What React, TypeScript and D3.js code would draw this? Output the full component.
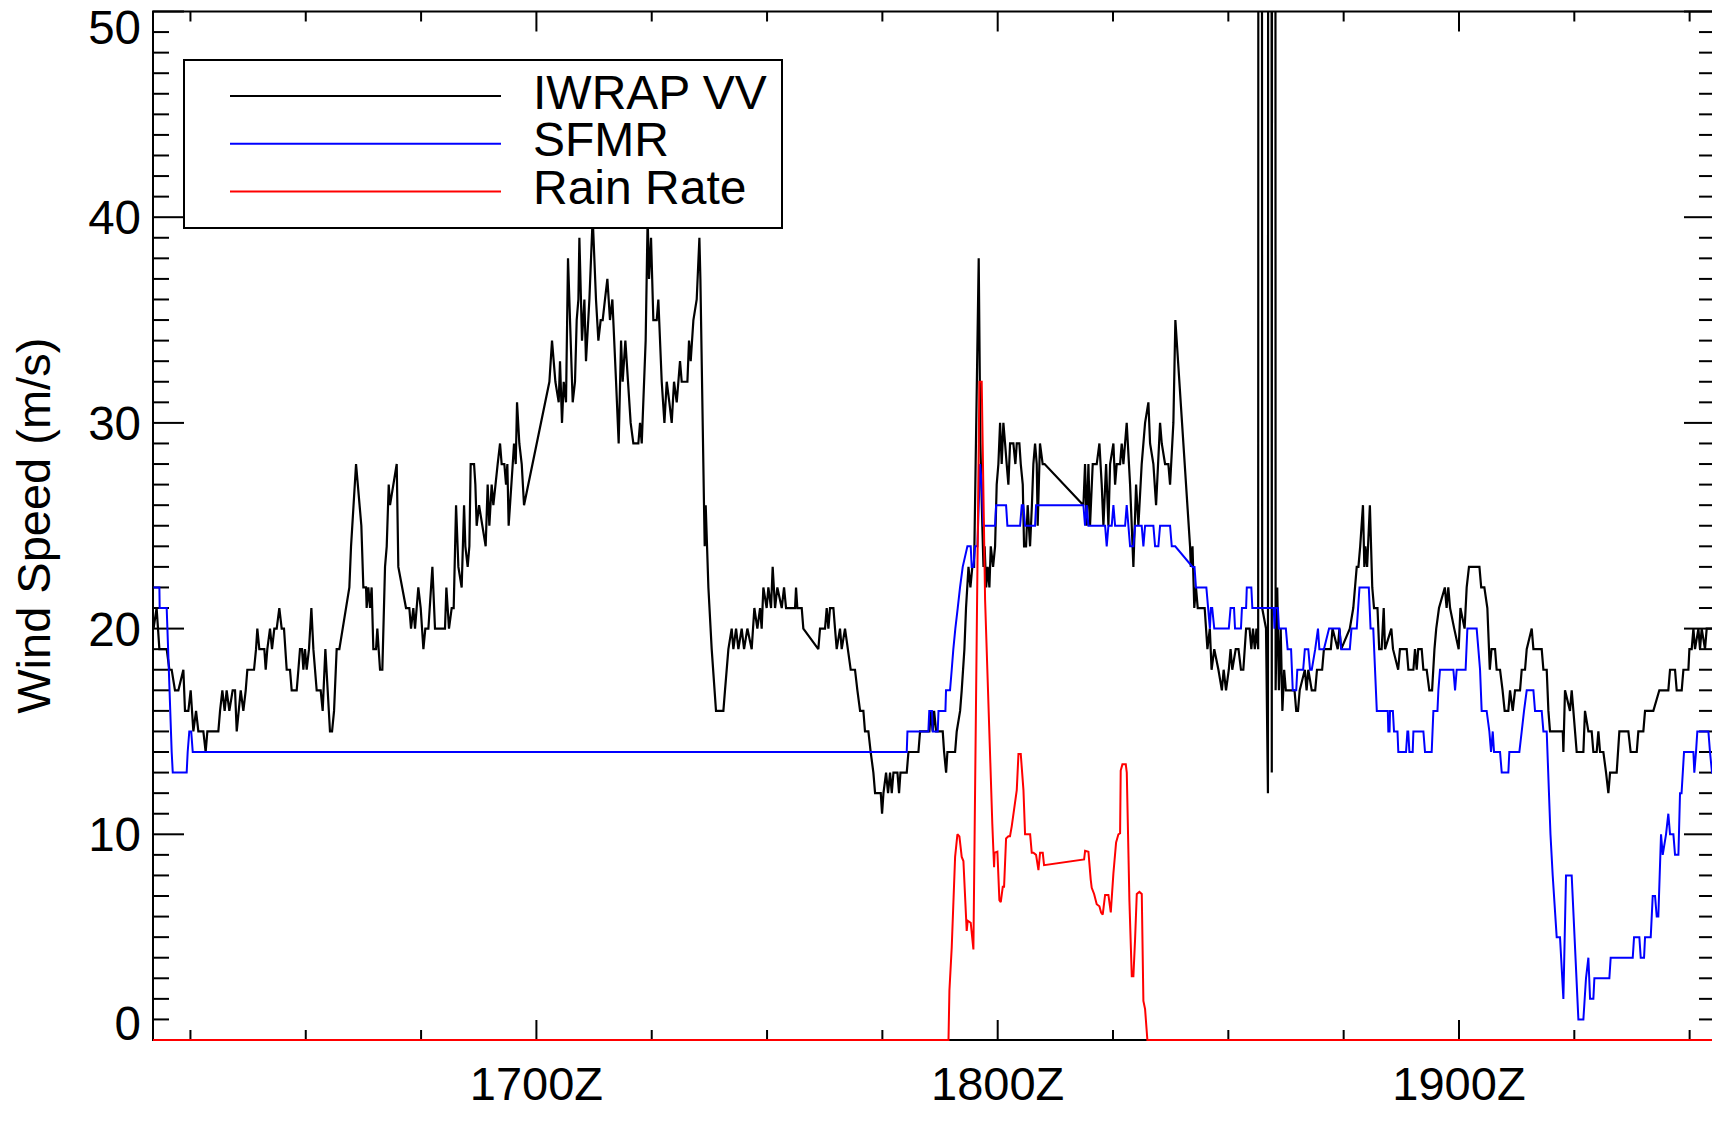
import React from 'react';
import * as d3 from 'd3';

// ---------- data (time in minutes after 1600Z, value in m/s or mm/hr) ----------
const timeDomain: [number, number] = [10.13, 213.3];
const speedDomain: [number, number] = [0, 50];

const xMajorTicks = [60, 120, 180];
const xTickLabels = ['1700Z', '1800Z', '1900Z'];
const xMinorTicks = [15, 30, 45, 75, 90, 105, 135, 150, 165, 195, 210];
const yMajorTicks = [0, 10, 20, 30, 40, 50];
const yMinorTicks = d3.range(0, 51);

const legendNames = ['IWRAP VV', 'SFMR', 'Rain Rate'];
const seriesColors = ['#000000', '#0000ff', '#ff0000'];

const iwrap: [number, number][] = [
  [10.2,20],[10.6,21],[10.96,19],[11.91,19],[12.26,18],[12.56,18],[12.99,17],[13.43,17],[14.08,18],[14.29,16],[14.73,16],[15.03,17],[15.38,15],[15.73,16],[16.03,15],[16.68,15],[16.98,14],[17.2,15],[18.63,15],[18.85,16],[19.15,17],[19.45,16],[19.71,17],[20.06,16],[20.49,17],[20.8,17],[21.02,15],[21.54,17],[21.88,16],[22.19,17],[22.4,18],[23.27,18],[23.53,19],[23.7,20],[23.96,19],[24.61,19],[24.79,18],[25.0,19],[25.35,20],[25.61,19],[25.91,20],[26.22,20],[26.56,21],[26.87,20],[27.17,20],[27.52,18],[27.95,18],[28.17,17],[28.82,17],[29.04,18],[29.25,19],[29.51,19],[29.69,18],[29.9,19],[30.12,18],[30.42,19],[30.73,21],[30.99,19],[31.42,17],[31.94,17],[32.2,16],[32.55,19],[32.85,17],[33.15,15],[33.42,15],[33.68,16],[34.02,19],[34.37,19],[35.67,22],[35.89,24],[36.54,28],[37.23,25],[37.49,22],[37.84,22],[37.92,21],[38.14,22],[38.36,21],[38.57,22],[38.79,19],[39.14,19],[39.31,20],[39.48,19],[39.66,18],[39.96,18],[40.31,23],[40.53,24],[40.79,27],[40.96,26],[41.83,28],[42.04,23],[43.04,21],[43.47,21],[43.69,20],[43.99,21],[44.21,20],[44.64,22],[44.95,21],[45.3,19],[45.55,20],[45.95,20],[46.47,23],[46.81,20],[48.11,20],[48.29,22],[48.63,20],[48.98,21],[49.24,21],[49.55,26],[49.85,23],[50.28,22],[50.59,26],[50.76,24],[51.06,23],[51.28,24],[51.45,28],[51.89,28],[52.06,27],[52.23,25],[52.54,26],[53.4,24],[53.66,27],[53.88,25],[54.18,27],[54.4,26],[54.96,28],[55.27,29],[55.48,28],[55.83,28],[56.05,27],[56.22,28],[56.39,25],[56.92,28],[57.09,29],[57.31,28],[57.48,31],[57.78,29],[58.09,28],[58.39,26],[61.69,32],[62.03,34],[62.47,32],[62.9,31],[63.07,33],[63.33,30],[63.55,32],[63.85,31],[64.11,38],[64.72,31],[65.02,32],[65.24,35],[65.46,36],[65.59,39],[65.93,34],[66.24,36],[66.45,33],[66.89,36],[67.32,40],[67.75,36],[68.06,34],[68.36,35],[68.62,35],[68.92,36],[69.23,37],[69.57,35],[69.88,36],[70.36,32],[70.7,29],[71.01,34],[71.22,32],[71.57,34],[72.26,30],[72.61,29],[73.26,29],[73.48,30],[73.7,29],[74.21,34],[74.47,40],[74.65,37],[74.91,39],[75.21,35],[75.65,35],[75.86,36],[76.3,32],[76.65,30],[76.95,32],[77.29,31],
  [77.6,30],[77.9,32],[78.25,31],[78.68,33],[78.9,32],[79.64,32],[79.85,34],[80.07,33],[80.42,35],[80.85,36],[81.2,39],[81.33,37],[81.8,26],[81.89,24],[82.02,26],[82.37,22],[82.8,19],[83.36,16],[84.32,16],[84.53,17],[84.97,19],[85.4,20],[85.62,19],[85.97,20],[86.27,19],[86.7,20],[87.01,19],[87.44,20],[88.0,19],[88.35,21],[88.74,20],[89.09,21],[89.3,20],[89.52,22],[89.95,21],[90.17,22],[90.52,21],[90.73,23],[91.04,21],[91.34,22],[91.91,21],[92.21,22],[92.47,21],[93.64,21],[93.77,22],[93.94,21],[94.51,21],[94.72,20],[96.67,19],[96.89,20],[97.54,20],[97.76,21],[97.98,20],[98.19,21],[98.63,21],[98.84,20],[99.06,19],[99.49,20],[99.71,19],[100.14,20],[100.88,18],[101.44,18],[101.75,17],[102.1,16],[102.53,16],[102.74,15],[103.18,15],[103.48,14],[103.83,13],[104.05,12],[104.79,12],[104.96,11],[105.14,12],[105.48,13],[105.74,12],[106.0,13],[106.22,12],[106.44,13],[106.96,13],[107.17,12],[107.35,13],[108.17,13],[108.39,14],[109.69,14],[109.9,15],[111.12,15],[111.29,16],[111.55,15],[111.73,16],[111.99,15],[112.85,15],[113.03,14],[113.29,13],[113.46,14],[114.46,14],[114.67,15],[115.11,16],[115.32,17],[115.67,19],[115.88,21],[116.2,23],[116.45,22],[116.7,23],[116.93,23],[117.53,38],[117.75,29],[118.0,25],[118.15,23],[118.3,24],[118.5,22],[118.7,23],[118.92,22],[119.1,24],[119.4,23],[119.66,24],[119.87,27],[120.09,28],[120.31,30],[120.52,28],[120.74,30],[120.96,29],[121.17,28],[121.39,27],[121.61,29],[122.04,29],[122.3,28],[122.48,29],[122.82,29],[123.0,28],[123.26,27],[123.43,24],[123.69,24],[123.9,26],[124.21,24],[124.45,26],[124.64,28],[124.86,29],[125.08,28],[125.2,25],[125.5,29],[125.85,28],[126.1,28],[131.15,26],[131.36,28],[131.58,25],[131.8,28],[132.01,25],[132.36,28],[132.88,28],[133.23,29],[133.53,27],[133.75,25],[134.1,28],[134.4,25],[134.62,28],[135.05,29],[135.27,27],[135.48,28],[135.92,28],[136.13,29],[136.35,28],[136.78,30],[137.22,27],[137.65,23],[138.0,27],[138.3,25],[138.73,28],[139.17,30],[139.6,31],[139.82,29],[140.25,28],[140.6,26],[141.12,30],[141.34,29],[141.77,28],[142.2,28],[142.42,27],[142.85,30],[143.11,35],[145.02,24],[145.12,23],[145.34,24],[145.57,21],[145.79,22],[146.02,21],[146.92,21],[147.28,19],[147.59,20],[147.82,18],[148.17,19],[148.71,18],[149.16,17],[149.39,18],[149.7,17],[150.06,18],[150.29,19],[150.51,18],[150.96,19],[151.32,19],[151.64,18],[151.95,18],[152.31,20],[152.76,20],[152.99,19],[153.21,20],[153.44,19],[153.66,20],[153.88,19],
  [154.1,400],[154.4,21],[154.9,20],[155.15,12],[155.4,400],[155.65,13],[155.9,400],[156.15,17],
  [156.36,22],[156.58,17],[156.81,20],[157.03,16],[157.26,18],[157.48,17],[158.61,17],[158.83,16],[159.06,16],[159.28,17],[159.95,18],[160.18,17],[160.4,18],[160.85,17],[161.3,17],[161.53,18],[162.2,18],[162.43,19],[163.33,19],[163.55,20],[164.23,19],[164.45,20],[164.68,19],[165.8,20],[166.25,21],[166.7,23],[166.92,23],[167.15,24],[167.51,26],[167.69,23],[167.82,24],[168.05,23],[168.41,26],[168.72,22],[168.95,21],[169.4,21],[169.62,19],[169.94,19],[170.21,21],[170.38,19],[171.2,20],[171.42,19],[172.09,18],[172.32,19],[173.2,19],[173.42,18],[174.07,18],[174.28,19],[174.5,18],[174.7,19],[175.15,19],[175.37,18],[175.8,18],[176.14,17],[176.5,17],[176.81,19],[177.04,20],[177.4,21],[178.16,22],[178.39,21],[178.61,22],[178.84,21],[179.38,20],[179.96,19],[180.19,21],[180.73,20],[181.0,22],[181.3,23],[182.66,23],[182.89,22],[183.3,22],[183.69,21],[184.01,18],[184.23,19],[184.69,19],[184.9,18],[185.34,18],[185.67,17],[185.94,16],[186.42,16],[186.64,17],[186.99,16],[187.29,17],[187.94,17],[188.16,18],[188.59,18],[188.81,19],[189.46,20],[189.68,19],[190.76,19],[190.98,18],[191.41,18],[191.63,16],[191.84,15],[192.28,15],[193.5,15],[193.58,14],[193.79,17],[194.44,16],[194.66,17],[194.88,16],[195.31,14],[196.18,14],[196.39,16],[196.83,15],[197.26,15],[197.48,14],[197.91,14],[198.13,15],[198.35,14],[198.78,14],[199.13,13],[199.43,12],[199.65,13],[200.51,13],[200.86,15],[202.03,15],[202.33,14],[203.12,14],[203.33,15],[203.98,15],[204.2,16],[205.28,16],[206.06,17],[207.23,17],[207.45,18],[208.1,18],[208.32,17],[208.97,17],[209.19,18],[209.84,18],[209.97,19],[210.27,19],[210.49,20],[210.7,19],[211.14,20],[211.35,19],[211.57,20],[212.0,19],[212.22,20],[213.3,20]
];

const sfmr: [number, number][] = [
  [10.2,22],[10.96,22],[11.0,21],[11.91,21],[12.56,14],[12.7,13],[14.51,13],[14.64,14],[14.85,15],[15.1,15],[15.3,14],[108.17,14],[108.26,15],[110.98,15],[111.1,16],[111.45,16],[111.55,15],[112.2,15],[112.3,16],[113.2,16],[113.28,17],[113.8,17],[114.02,18],[114.23,19],[114.49,20],[114.8,21],[115.1,22],[115.45,23],[116.06,24],[116.49,24],[116.62,23],[116.84,23],[117.06,24],[117.36,24],[117.71,28],[117.92,27],[118.14,25],[119.66,25],[119.79,26],[121.09,26],[121.26,25],[122.91,25],[123.13,26],[123.34,26],[123.56,25],[124.86,25],[124.99,26],[131.15,26],[131.36,25],[131.58,26],[131.8,25],[133.97,25],[134.18,24],[134.4,25],[134.83,25],[135.05,26],[135.27,25],[136.57,25],[136.78,26],[137.0,25],[137.22,24],[137.65,24],[137.87,25],[138.73,25],[138.95,24],[139.17,25],[140.25,25],[140.47,24],[140.9,24],[141.12,25],[142.42,25],[142.64,24],[143.09,24],[145.34,23],[145.6,23],[145.79,22],[147.14,22],[147.37,21],[147.6,20],[147.73,21],[147.9,21],[148.17,20],[150.06,20],[150.29,21],[150.74,21],[150.87,20],[151.64,20],[151.77,21],[152.31,21],[152.4,22],[152.99,22],[153.12,21],[155.91,21],[156.0,20],[156.1,21],[156.45,21],[156.58,20],[157.48,20],[157.71,19],[158.16,19],[158.38,17],[158.83,17],[158.97,18],[159.73,18],[159.95,19],[160.4,19],[160.63,18],[160.85,18],[161.3,19],[161.66,20],[161.84,19],[162.43,19],[163.1,20],[164.45,20],[164.68,19],[165.8,19],[166.02,20],[166.7,20],[167.06,22],[168.27,22],[168.5,20],[168.85,20],[169.31,16],[170.74,16],[170.81,15],[170.97,15],[171.03,16],[171.4,16],[171.55,15],[172.0,15],[172.11,14],[173.11,14],[173.29,15],[173.4,15],[173.55,14],[173.98,14],[174.07,15],[175.37,15],[175.58,14],[176.45,14],[176.67,16],[177.2,16],[177.32,17],[177.53,18],[179.27,18],[179.49,17],[179.7,18],[180.86,18],[181.09,20],[182.3,20],[182.52,19],[182.74,18],[182.95,16],[183.6,16],[183.95,15],[184.17,14],[184.39,15],[184.56,14],[185.34,14],[185.56,13],[186.42,13],[186.55,14],[187.85,14],[188.16,15],[188.46,16],[188.81,17],[189.68,17],[189.89,16],[190.76,16],[190.98,15],[191.41,15],[191.9,10],[192.19,8],[192.71,5],[193.14,5],[193.58,2],[193.92,8],[194.66,8],[195.53,1],[196.18,1],[196.52,3],[196.83,4],[197.05,2],[197.48,2],[197.61,3],[199.56,3],[199.73,4],[202.6,4],[202.77,5],[203.46,5],[203.64,4],[204.07,4],[204.2,5],[204.94,5],[205.2,7],[205.5,7],[205.72,6],[205.93,6],[206.28,10],[206.5,9],[206.93,10],[207.23,11],[207.45,10],[207.89,10],[208.1,9],[208.54,9],[208.75,12],[208.95,12],[209.27,14],[210.49,14],[210.61,13],[210.83,14],[211.0,15],[212.44,15],[212.65,14],[212.91,13],[213.3,13]
];

const rainRate: [number, number][] = [
  [10.13,0],[113.6,0],[113.72,2.4],[114.02,4.5],[114.46,8.9],[114.76,10.0],[115.02,9.9],[115.32,8.9],[115.54,8.7],[115.97,5.3],[116.1,5.8],[116.49,5.7],[116.84,4.4],[117.62,32],[117.92,32],[118.36,21.4],[119.3,10.5],[119.44,9.2],[119.53,8.4],[119.6,9.1],[119.96,9.15],[120.22,6.8],[120.4,6.7],[120.66,7.45],[120.83,7.45],[121.09,9.8],[121.39,9.9],[121.6,9.9],[121.83,10.4],[122.48,12.15],[122.7,13.9],[123.0,13.9],[123.35,12.15],[123.56,10.0],[124.22,10.0],[124.43,9.1],[124.65,9.1],[124.99,9.0],[125.3,8.26],[125.51,9.1],[125.86,9.1],[126.03,8.5],[131.24,8.78],[131.37,9.2],[131.8,9.15],[132.1,7.8],[132.23,7.4],[132.54,7.1],[132.88,6.6],[133.23,6.5],[133.45,6.2],[133.66,6.1],[133.97,7.05],[134.4,7.05],[134.71,6.2],[135.05,8.1],[135.4,9.6],[135.7,10.0],[135.92,10.05],[136.0,13.1],[136.22,13.4],[136.66,13.4],[136.79,13.0],[137.13,6.8],[137.44,3.1],[137.65,3.1],[137.87,4.9],[138.09,7.1],[138.43,7.2],[138.74,7.1],[138.95,1.9],[139.17,1.5],[139.47,0],[213.3,0]
];

const FONT = '"Liberation Sans", Arial, Helvetica, sans-serif';

export default function App() {
  const plotL = 153, plotR = 1715, plotT = 11.5, plotB = 1040;
  const x = d3.scaleLinear().domain(timeDomain).range([plotL, plotR]);
  const y = d3.scaleLinear().domain(speedDomain).range([plotB, plotT]);
  const line = d3.line<[number, number]>().x(d => x(d[0])).y(d => y(d[1]));

  const series = [iwrap, sfmr, rainRate];
  const widths = [2.2, 2, 2];

  const yMinorLen = 16, yMajorLen = 31, xMinorLen = 10, xMajorLen = 20;
  const tickStroke = { stroke: '#000', strokeWidth: 2 };

  // legend layout
  const lg = { x: 184, y: 60, w: 598, h: 168, lineX1: 230, lineX2: 501, textX: 533, row0: 96, rowGap: 47.7 };

  return (
    <svg width={1712} height={1136} style={{ position: 'absolute', left: 0, top: 0, background: '#fff' }}
      fontFamily={FONT}>
      <defs>
        <clipPath id="plotClip">
          <rect x={plotL} y={plotT} width={plotR - plotL} height={plotB - plotT + 2.5} />
        </clipPath>
      </defs>
      <rect x={0} y={0} width={1712} height={1136} fill="#fff" />

      {/* axes box */}
      <rect x={plotL} y={plotT} width={plotR - plotL} height={plotB - plotT} fill="none" stroke="#000" strokeWidth={2} />

      {/* y ticks, left and right */}
      {yMinorTicks.map(v => {
        const len = v % 10 === 0 ? yMajorLen : yMinorLen;
        const yy = y(v);
        return (
          <g key={'yt' + v}>
            <line x1={plotL} x2={plotL + len} y1={yy} y2={yy} {...tickStroke} />
            <line x1={plotR} x2={plotR - len} y1={yy} y2={yy} {...tickStroke} />
          </g>
        );
      })}
      {/* x ticks, bottom and top */}
      {xMinorTicks.map(t => (
        <g key={'xm' + t}>
          <line x1={x(t)} x2={x(t)} y1={plotB} y2={plotB - xMinorLen} {...tickStroke} />
          <line x1={x(t)} x2={x(t)} y1={plotT} y2={plotT + xMinorLen} {...tickStroke} />
        </g>
      ))}
      {xMajorTicks.map(t => (
        <g key={'xM' + t}>
          <line x1={x(t)} x2={x(t)} y1={plotB} y2={plotB - xMajorLen} {...tickStroke} />
          <line x1={x(t)} x2={x(t)} y1={plotT} y2={plotT + xMajorLen} {...tickStroke} />
        </g>
      ))}

      {/* tick labels */}
      {yMajorTicks.map(v => (
        <text key={'yl' + v} x={141} y={Math.min(Math.max(y(v) + 17, 43.5), 1040)} textAnchor="end"
          fontSize={47.5} fill="#000">{v}</text>
      ))}
      {xMajorTicks.map((t, i) => (
        <text key={'xl' + t} x={x(t)} y={1100} textAnchor="middle" fontSize={47} fill="#000">{xTickLabels[i]}</text>
      ))}

      {/* axis title */}
      <text transform={`translate(49.5, ${(plotT + plotB) / 2}) rotate(-90)`} textAnchor="middle" fontSize={47} fill="#000">
        Wind Speed (m/s)
      </text>

      {/* data */}
      <g clipPath="url(#plotClip)">
        {series.map((s, i) => (
          <path key={'s' + i} d={line(s) || ''} fill="none" stroke={seriesColors[i]} strokeWidth={widths[i]}
            strokeLinejoin="miter" strokeMiterlimit={2} />
        ))}
      </g>

      {/* legend */}
      <rect x={lg.x} y={lg.y} width={lg.w} height={lg.h} fill="#fff" stroke="#000" strokeWidth={2} />
      {legendNames.map((name, i) => {
        const yy = lg.row0 + i * lg.rowGap;
        return (
          <g key={'lg' + i}>
            <line x1={lg.lineX1} x2={lg.lineX2} y1={yy} y2={yy} stroke={seriesColors[i]} strokeWidth={2} />
            <text x={lg.textX} y={yy + 12.5} fontSize={48} fill="#000">{name}</text>
          </g>
        );
      })}
    </svg>
  );
}
